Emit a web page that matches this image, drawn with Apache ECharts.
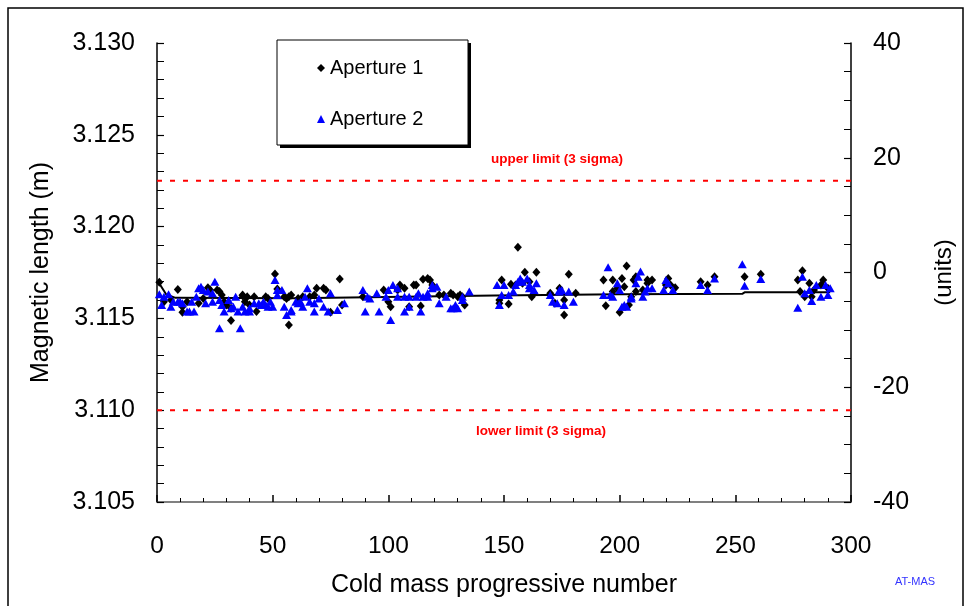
<!DOCTYPE html>
<html>
<head>
<meta charset="utf-8">
<script src="https://cdn.jsdelivr.net/npm/echarts@6/dist/echarts.min.js"></script>
<style>
  html, body { margin: 0; padding: 0; background: #fff; }
  #chart { width: 968px; height: 606px; }
</style>
</head>
<body>
<div id="chart"></div>
<script>
// Magnetic length per cold mass, both apertures [progressive number, length in m]
const aperture1 = [
  [1,3.11697],[3,3.11591],[6,3.11600],[9,3.11658],[11,3.11533],[11,3.11564],[13,3.11591],
  [18,3.11582],[20,3.11609],[22,3.11667],[23,3.11655],[26,3.11655],[27,3.11646],[28,3.11628],
  [29,3.11591],[30,3.11573],[32,3.11555],[32,3.11488],[37,3.11628],[37,3.11624],[38,3.11591],
  [39,3.11618],[40,3.11573],[42,3.11618],[43,3.11537],[47,3.11618],[48,3.11609],[51,3.11742],
  [52,3.11660],[55,3.11618],[56,3.11609],[57,3.11618],[57,3.11464],[58,3.11628],[61,3.11609],
  [63,3.11618],[66,3.11618],[68,3.11628],[69,3.11664],[72,3.11664],[73,3.11655],[75,3.11533],
  [79,3.11715],[80,3.11573],[89,3.11618],[98,3.11655],[100,3.11591],[101,3.11564],[104,3.11655],
  [105,3.11682],[107,3.11664],[109,3.11564],[111,3.11682],[112,3.11682],[114,3.11567],[115,3.11713],
  [117,3.11718],[118,3.11709],[119,3.11682],[122,3.11628],[124,3.11628],[127,3.11637],[128,3.11628],
  [130,3.11618],[131,3.11628],[132,3.11618],[133,3.11573],
  [148,3.11600],[148,3.11582],[149,3.11709],[152,3.11578],[153,3.11686],[155,3.11682],[156,3.11887],
  [158,3.11691],[159,3.11751],[161,3.11700],[162,3.11618],[163,3.11637],[164,3.11751],
  [170,3.11637],[172,3.11582],[174,3.11664],[176,3.11600],[176,3.11519],[178,3.11740],[181,3.11637],
  [193,3.11709],[194,3.11569],[197,3.11646],[197,3.11709],[199,3.11664],[200,3.11533],[201,3.11718],
  [202,3.11673],[203,3.11786],[204,3.11573],[205,3.11618],[206,3.11709],[207,3.11646],[207,3.11727],
  [210,3.11655],[212,3.11691],[212,3.11709],[214,3.11709],
  [220,3.11682],[221,3.11718],[222,3.11682],[224,3.11667],
  [235,3.11700],[238,3.11682],[241,3.11727],[254,3.11727],[261,3.11740],
  [277,3.11709],[278,3.11646],[279,3.11760],[280,3.11618],[282,3.11691],[283,3.11618],
  [284,3.11655],[287,3.11682],[288,3.11709],[290,3.11664]
];
const aperture2 = [
  [1,3.11631],[2,3.11573],[3,3.11618],[5,3.11631],[6,3.11564],[7,3.11591],[9,3.11591],
  [10,3.11591],[11,3.11582],[13,3.11537],[14,3.11537],[15,3.11591],[16,3.11537],[17,3.11618],
  [18,3.11664],[19,3.11673],[20,3.11655],[21,3.11582],[22,3.11646],[24,3.11637],[24,3.11591],
  [25,3.11700],[27,3.11446],[27,3.11600],[28,3.11573],[29,3.11537],[31,3.11600],[32,3.11555],
  [33,3.11564],[34,3.11618],[35,3.11537],[36,3.11446],[37,3.11564],[38,3.11537],[40,3.11555],
  [40,3.11537],[42,3.11582],[44,3.11582],[45,3.11573],[46,3.11591],[47,3.11573],[48,3.11564],
  [49,3.11591],[50,3.11564],[51,3.11709],[52,3.11628],[52,3.11655],[54,3.11655],[55,3.11564],
  [56,3.11519],[58,3.11546],[58,3.11537],[60,3.11591],[61,3.11582],[62,3.11591],[63,3.11564],
  [64,3.11618],[65,3.11664],[66,3.11591],[68,3.11537],[68,3.11582],[70,3.11609],[72,3.11564],
  [74,3.11537],[75,3.11637],[78,3.11546],[81,3.11582],
  [89,3.11655],[90,3.11537],[91,3.11618],[92,3.11609],[95,3.11637],[96,3.11537],[99,3.11618],
  [100,3.11655],[101,3.11491],[102,3.11682],[104,3.11618],[104,3.11664],[107,3.11537],[107,3.11618],
  [109,3.11564],[109,3.11618],[112,3.11618],[113,3.11637],[114,3.11537],[115,3.11618],[117,3.11637],
  [117,3.11618],[119,3.11664],[119,3.11682],[121,3.11673],[122,3.11582],[125,3.11618],[127,3.11555],
  [128,3.11555],[129,3.11573],[130,3.11555],[132,3.11600],[132,3.11618],[135,3.11646],
  [147,3.11682],[148,3.11573],[149,3.11628],[150,3.11682],[152,3.11628],[154,3.11646],[155,3.11682],
  [156,3.11700],[157,3.11718],[158,3.11700],[160,3.11718],[161,3.11682],[161,3.11664],[163,3.11655],
  [164,3.11691],
  [170,3.11628],[171,3.11591],[173,3.11582],[174,3.11646],[174,3.11655],[175,3.11655],[176,3.11573],
  [178,3.11646],[180,3.11591],
  [193,3.11628],[195,3.11778],[196,3.11628],[197,3.11618],[199,3.11691],[200,3.11655],[201,3.11564],
  [202,3.11573],[203,3.11564],[205,3.11609],[205,3.11618],[207,3.11691],[208,3.11727],[209,3.11755],
  [210,3.11618],[211,3.11646],[212,3.11664],[214,3.11664],
  [219,3.11655],[220,3.11709],[221,3.11691],[223,3.11655],
  [235,3.11682],[238,3.11655],[241,3.11718],[253,3.11795],[254,3.11678],[261,3.11715],
  [277,3.11558],[279,3.11727],[280,3.11637],[282,3.11655],[283,3.11595],[285,3.11682],
  [287,3.11618],[289,3.11682],[290,3.11628],[291,3.11664]
];
// Running mean of all magnets
const trend = [
  [1,3.11690],[4,3.11630],[8,3.11612],[60,3.11610],[146,3.11625],[200,3.11632],
  [253,3.11634],[254,3.11642],[291,3.11643]
];
// 3 sigma acceptance limits (m), drawn across the full x range
const upperLimit = 3.1225;
const lowerLimit = 3.1100;
const xRange = [0, 300];

const FONT = '"Liberation Sans", Arial, sans-serif';
const chart = echarts.init(document.getElementById('chart'), null, { renderer: 'canvas' });

const limitSeries = (name, value) => ({
  name, type: 'line', data: xRange.map(x => [x, value]),
  showSymbol: false, symbol: 'none', silent: true, z: 1,
  lineStyle: { color: '#ff0000', type: [5, 8], width: 2 }
});

const option = {
  animation: false,
  backgroundColor: '#fff',
  grid: { left: 157, right: 117, top: 43, bottom: 104, containLabel: false },
  legend: {
    data: ['Aperture 1', 'Aperture 2'],
    orient: 'vertical',
    left: 312, top: 53,
    itemWidth: 8, itemHeight: 8,
    itemGap: 31, itemTextGap: 10,
    textStyle: { fontFamily: FONT, fontSize: 20, color: '#000', lineHeight: 20 },
    selectedMode: false
  },
  xAxis: {
    type: 'value', min: 0, max: 300, interval: 50,
    axisLine: { show: true, onZero: false, lineStyle: { color: '#808080', width: 2 } },
    axisTick: { show: true, inside: true, length: 7, lineStyle: { color: '#000', width: 1.5 } },
    minorTick: { show: true, splitNumber: 5, length: 4, lineStyle: { color: '#000', width: 1 } },
    splitLine: { show: false },
    axisLabel: { fontFamily: FONT, fontSize: 24.5, color: '#000', margin: 32 },
    name: 'Cold mass progressive number', nameLocation: 'middle', nameGap: 71,
    nameTextStyle: { fontFamily: FONT, fontSize: 25, color: '#000' }
  },
  yAxis: [{
    type: 'value', min: 3.105, max: 3.130, interval: 0.005,
    axisLine: { show: true, onZero: false, lineStyle: { color: '#000', width: 1.5 } },
    axisTick: { show: true, inside: true, length: 7, lineStyle: { color: '#000', width: 1.2 } },
    minorTick: { show: true, splitNumber: 5, length: 7, lineStyle: { color: '#000', width: 1 } },
    splitLine: { show: false },
    axisLabel: { fontFamily: FONT, fontSize: 25, color: '#000', margin: 22,
      formatter: v => v.toFixed(3) },
    name: 'Magnetic length (m)', nameLocation: 'middle', nameGap: 103, nameRotate: 90,
    nameTextStyle: { fontFamily: FONT, fontSize: 25, color: '#000' }
  }, {
    type: 'value', min: -40, max: 40, interval: 20, position: 'right',
    axisLine: { show: true, onZero: false, lineStyle: { color: '#000', width: 1.5 } },
    axisTick: { show: true, inside: true, length: 7, lineStyle: { color: '#000', width: 1.2 } },
    minorTick: { show: true, splitNumber: 4, length: 7, lineStyle: { color: '#000', width: 1 } },
    splitLine: { show: false },
    axisLabel: { fontFamily: FONT, fontSize: 25, color: '#000', margin: 22 },
    name: '(units)', nameLocation: 'middle', nameGap: 81, nameRotate: 90,
    nameTextStyle: { fontFamily: FONT, fontSize: 24, color: '#000' }
  }],
  series: [
    limitSeries('upper limit', upperLimit),
    limitSeries('lower limit', lowerLimit),
    {
      name: 'Mean', type: 'line', data: trend,
      showSymbol: false, symbol: 'none',
      lineStyle: { color: '#000', width: 2 }, z: 2
    }, {
      name: 'Aperture 1', type: 'scatter', data: aperture1,
      symbol: 'diamond', symbolSize: [8, 9], z: 3,
      itemStyle: { color: '#000', opacity: 1 }
    }, {
      name: 'Aperture 2', type: 'scatter', data: aperture2,
      symbol: 'triangle', symbolSize: [9, 8], z: 4,
      itemStyle: { color: '#0000ff', opacity: 1 }
    }
  ]
};
chart.setOption(option);

// Limit captions, anchored to the limit values
const yUp = chart.convertToPixel({ yAxisIndex: 0 }, upperLimit);
const yLo = chart.convertToPixel({ yAxisIndex: 0 }, lowerLimit);
chart.setOption({
  graphic: [
    // outer frame
    { type: 'rect', shape: { x: 8, y: 8, width: 955, height: 620 },
      style: { fill: 'none', stroke: '#000', lineWidth: 1.5 }, silent: true, z: -1 },
    // legend frame with shadow
    { type: 'rect', shape: { x: 280, y: 43, width: 191, height: 105 },
      style: { fill: '#000' }, silent: true, z: 0 },
    { type: 'rect', shape: { x: 277, y: 40, width: 191, height: 105 },
      style: { fill: '#fff', stroke: '#000', lineWidth: 1 }, silent: true, z: 0 },
    { type: 'text', x: 557, y: yUp - 21,
      style: { text: 'upper limit (3 sigma)', fill: '#ff0000', font: 'bold 13.5px ' + FONT,
        textAlign: 'center', textVerticalAlign: 'middle' }, silent: true },
    { type: 'text', x: 541, y: yLo + 21,
      style: { text: 'lower limit (3 sigma)', fill: '#ff0000', font: 'bold 13.5px ' + FONT,
        textAlign: 'center', textVerticalAlign: 'middle' }, silent: true },
    { type: 'text', x: 915, y: 582,
      style: { text: 'AT-MAS', fill: '#3333ff', font: '11px ' + FONT,
        textAlign: 'center', textVerticalAlign: 'middle' }, silent: true }
  ]
});
</script>
</body>
</html>
